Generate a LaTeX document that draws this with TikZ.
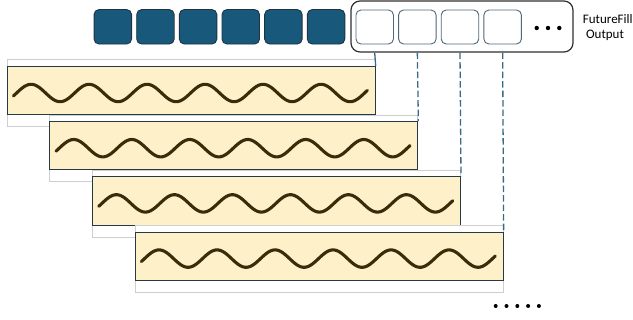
\documentclass[tikz,border=0pt]{standalone}
\usepackage{fontspec}
\setmainfont{Carlito}
\definecolor{tokfill}{HTML}{18597B}
\definecolor{tokedge}{HTML}{1F3340}
\definecolor{outedge}{HTML}{4D6879}
\definecolor{boxedge}{HTML}{303030}
\definecolor{panelfill}{HTML}{FEF0C9}
\definecolor{paneledge}{HTML}{263A46}
\definecolor{framegray}{HTML}{CFCFCF}
\definecolor{linkblue}{HTML}{3A6987}
\definecolor{wavebrown}{HTML}{3A2C0A}
\tikzset{
  tok/.style={draw=tokedge, fill=tokfill, line width=0.9pt, rounded corners=5pt,
    minimum width=37.5pt, minimum height=34.5pt, inner sep=0pt},
  outtok/.style={draw=outedge, fill=white, line width=0.9pt, rounded corners=5pt,
    minimum width=37.5pt, minimum height=34pt, inner sep=0pt},
  container/.style={draw=boxedge, fill=white, line width=1.2pt, rounded corners=9pt,
    minimum width=222pt, minimum height=51pt, inner sep=0pt},
  frame/.style={draw=framegray, fill=white, line width=0.8pt, anchor=north west,
    minimum width=368pt, minimum height=66.8pt, inner sep=0pt},
  panel/.style={draw=paneledge, fill=panelfill, line width=1pt, anchor=north west,
    minimum width=368pt, minimum height=48.3pt, inner sep=0pt},
  wave/.style={draw=wavebrown, line width=3.1pt, line cap=round, line join=round},
  link/.style={draw=linkblue, line width=1.3pt},
  dashedlink/.style={link, dash pattern=on 6.5pt off 3pt},
  dotmark/.style={circle, fill=black, inner sep=0pt, minimum size=4.4pt},
  smalldot/.style={circle, fill=black, inner sep=0pt, minimum size=4pt},
  label/.style={font=\fontsize{13}{15}\selectfont, anchor=base, inner sep=0pt}
}
\begin{document}
\begin{tikzpicture}[x=1pt,y=-1pt]
\useasboundingbox (0,0) rectangle (633,320);

% stacked signal panels, each on a light frame
\foreach \k in {0,...,3} {
  \pgfmathsetmacro\sx{6.7+42.65*\k}
  \pgfmathsetmacro\sy{66+55.2*\k}
  \node[frame] (f\k) at (\sx,\sy-6.5) {};
  \node[panel] (p\k) at (\sx,\sy) {};
  % sine wave, period 58pt (360/58 = 6.2069 degrees per pt)
  \draw[wave, shift={(p\k.north west)}]
    plot[domain=6.7:360.7, samples=240, smooth] (\x,{27-8.7*sin(6.2069*(\x-9.9))});
}

% input tokens
\foreach \i in {0,...,5} {
  \node[tok] (t\i) at (112.8+42.65*\i,26.8) {};
}

% output block with its tokens
\node[container] (out) at (462,26.5) {};
\foreach \i in {0,...,3} {
  \node[outtok] (o\i) at (374.7+42.65*\i,27) {};
}
\node[dotmark] (od1) at (536.7,28) {};
\node[dotmark] (od2) at (548,28) {};
\node[dotmark] (od3) at (559.3,28) {};

\node[label] (lbl1) at (607.8,24) {FutureFill};
\node[label] (lbl2) at (605,38.3) {Output};

% links from output tokens down to the panels
\draw[link] (o0 |- out.south) -- (p0.north east);
\draw[dashedlink] (o1 |- out.south) -- (p1.north east);
\draw[dashedlink] (o2 |- out.south) -- (p2.north east);
\draw[dashedlink] (o3 |- out.south) -- (p3.north east);

% continuation marks
\foreach \j in {0,...,4} {
  \node[smalldot] (bd\j) at (495.7+10.8*\j,306) {};
}
\end{tikzpicture}
\end{document}
